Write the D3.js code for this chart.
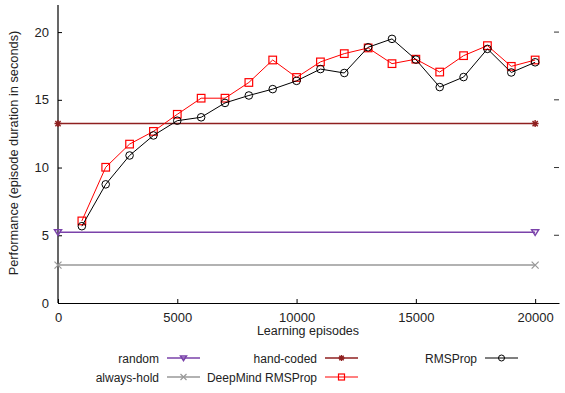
<!DOCTYPE html>
<html>
<head>
<meta charset="utf-8">
<script src="https://cdn.jsdelivr.net/npm/d3@7"></script>
<style>
  body { margin: 0; background: #fff; }
  svg { font-family: "Liberation Sans", Arial, sans-serif; }
</style>
</head>
<body>
<svg id="chart" width="565" height="393"></svg>
<script>
// learning curves, one point per 1000 episodes
const episodes = [1000, 2000, 3000, 4000, 5000, 6000, 7000, 8000, 9000, 10000,
  11000, 12000, 13000, 14000, 15000, 16000, 17000, 18000, 19000, 20000];
const rmsprop = [5.67, 8.76, 10.89, 12.37, 13.46, 13.71, 14.77, 15.32, 15.79, 16.4,
  17.27, 16.98, 18.88, 19.5, 17.97, 15.94, 16.68, 18.76, 17.02, 17.77];
const deepmind = [6.06, 10.02, 11.73, 12.67, 13.93, 15.12, 15.12, 16.28, 17.94, 16.65,
  17.8, 18.41, 18.83, 17.67, 18.0, 17.05, 18.26, 19.0, 17.47, 17.94];
// baselines are flat lines, drawn between episode 0 and 20000
const baselineX = [0, 20000];
const randomVal = 5.22;
const handCoded = 13.25;
const alwaysHold = 2.8;

const xTicks = [0, 5000, 10000, 15000, 20000];
const yTicks = [0, 5, 10, 15, 20];

const svg = d3.select('#chart');
const margin = {left: 58, right: 6, top: 5, bottom: 90};
const W = 565, H = 393;

const x = d3.scaleLinear().domain([0, 21000]).range([margin.left, W - margin.right]);
const y = d3.scaleLinear().domain([0, 22]).range([H - margin.bottom, margin.top]);

// axes: ticks point inward
const xAxis = svg.append('g')
  .attr('transform', `translate(0,${y(0)})`)
  .call(d3.axisBottom(x).tickValues(xTicks).tickFormat(d3.format('d')).tickSizeInner(-4).tickSizeOuter(0).tickPadding(10));
const yAxis = svg.append('g')
  .attr('transform', `translate(${x(0)},0)`)
  .call(d3.axisLeft(y).tickValues(yTicks).tickSizeInner(-4).tickSizeOuter(0).tickPadding(9));
[xAxis, yAxis].forEach(a => {
  a.selectAll('text').attr('font-size', 13).attr('fill', '#222').attr('font-family', '"Liberation Sans", Arial, sans-serif');
  a.select('.domain').attr('stroke', '#000').attr('stroke-width', 1.2);
  a.selectAll('.tick line').attr('stroke', '#000');
});
yAxis.select('.domain').attr('d', `M0,${y(22)}V${y(0)}`);

// mirror ticks on the right edge
svg.append('g').selectAll('line').data(yTicks.slice(1)).join('line')
  .attr('x1', W - margin.right - 5).attr('x2', W - margin.right)
  .attr('y1', d => y(d)).attr('y2', d => y(d))
  .attr('stroke', '#333');

// axis titles
svg.append('text').attr('x', 308).attr('y', 335).attr('text-anchor', 'middle')
  .attr('font-size', 12.5).attr('fill', '#222').text('Learning episodes');
svg.append('text').attr('transform', 'translate(18,153) rotate(-90)')
  .attr('text-anchor', 'middle').attr('font-size', 12.8).attr('fill', '#222')
  .text('Performance (episode duration in seconds)');

// marker shapes
function marker(g, type, cx, cy, color, s = 4) {
  if (type === 'circle') {
    g.append('circle').attr('cx', cx).attr('cy', cy).attr('r', s).attr('fill', 'none').attr('stroke', color).attr('stroke-width', 1);
  } else if (type === 'square') {
    g.append('rect').attr('x', cx - s).attr('y', cy - s).attr('width', 2 * s).attr('height', 2 * s)
      .attr('fill', 'none').attr('stroke', color).attr('stroke-width', 1.2);
  } else if (type === 'tri') {
    g.append('path').attr('d', `M${cx - s},${cy - s * 0.7}L${cx + s},${cy - s * 0.7}L${cx},${cy + s * 0.9}Z`)
      .attr('fill', 'none').attr('stroke', color).attr('stroke-width', 1.5);
  } else if (type === 'x') {
    g.append('path').attr('d', `M${cx - s},${cy - s}L${cx + s},${cy + s}M${cx - s},${cy + s}L${cx + s},${cy - s}`)
      .attr('stroke', color).attr('stroke-width', 1.2);
  } else if (type === 'star') {
    const k = s * 0.75;
    g.append('path').attr('d', `M${cx - k},${cy - k}L${cx + k},${cy + k}M${cx - k},${cy + k}L${cx + k},${cy - k}M${cx - s},${cy}L${cx + s},${cy}M${cx},${cy - s}L${cx},${cy + s}`)
      .attr('stroke', color).attr('stroke-width', 1.4);
  }
}

const line = d3.line().x(d => x(d[0])).y(d => y(d[1]));

const baselines = [
  {name: 'always-hold', v: alwaysHold, color: '#999999', m: 'x'},
  {name: 'random', v: randomVal, color: '#7a42aa', m: 'tri'},
  {name: 'hand-coded', v: handCoded, color: '#8f2020', m: 'star'}
];
const series = [
  {name: 'DeepMind RMSProp', vals: deepmind, color: '#ff0000', m: 'square'},
  {name: 'RMSProp', vals: rmsprop, color: '#000000', m: 'circle'}
];

const plot = svg.append('g');
baselines.forEach(b => {
  const pts = baselineX.map(e => [e, b.v]);
  plot.append('path').attr('d', line(pts)).attr('fill', 'none').attr('stroke', b.color).attr('stroke-width', 1.5);
  pts.forEach(p => marker(plot, b.m, x(p[0]), y(p[1]), b.color, 3.5));
});
series.forEach(s => {
  const pts = episodes.map((e, i) => [e, s.vals[i]]);
  plot.append('path').attr('d', line(pts)).attr('fill', 'none').attr('stroke', s.color).attr('stroke-width', 1);
  pts.forEach(p => marker(plot, s.m, x(p[0]), y(p[1]), s.color, 3.8));
});

// legend, gnuplot style: label right-aligned, sample to its right
const legend = [
  {name: 'random', color: '#7a42aa', m: 'tri', col: 0, row: 0},
  {name: 'always-hold', color: '#999999', m: 'x', col: 0, row: 1},
  {name: 'hand-coded', color: '#8f2020', m: 'star', col: 1, row: 0},
  {name: 'DeepMind RMSProp', color: '#ff0000', m: 'square', col: 1, row: 1},
  {name: 'RMSProp', color: '#000000', m: 'circle', col: 2, row: 0}
];
const colX = [159, 317, 477];
const rowY = [358, 377];
const lg = svg.append('g');
legend.forEach(l => {
  const tx = colX[l.col], ty = rowY[l.row];
  lg.append('text').attr('x', tx).attr('y', ty + 4.5).attr('text-anchor', 'end')
    .attr('font-size', 12).attr('fill', '#222').text(l.name);
  lg.append('line').attr('x1', tx + 8).attr('x2', tx + 41).attr('y1', ty).attr('y2', ty)
    .attr('stroke', l.color).attr('stroke-width', l.m === 'circle' || l.m === 'square' ? 1 : 1.5);
  marker(lg, l.m, tx + 24.5, ty, l.color, 3);
});
</script>
</body>
</html>
